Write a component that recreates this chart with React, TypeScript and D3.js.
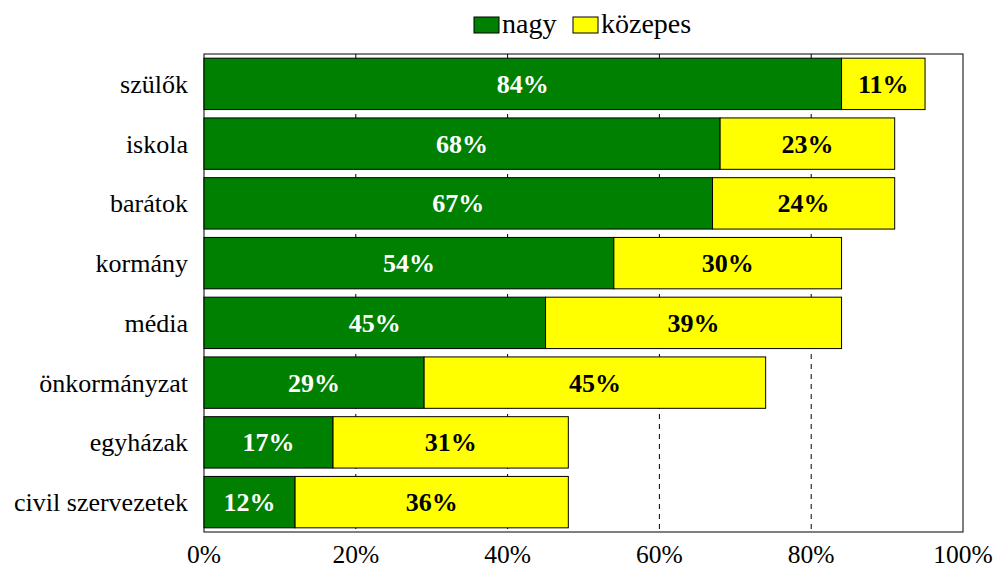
import { useRef, useEffect } from "react";
import * as d3 from "d3";

const categories = ["szülők", "iskola", "barátok", "kormány", "média", "önkormányzat", "egyházak", "civil szervezetek"];
const nagy = [84, 68, 67, 54, 45, 29, 17, 12];
const kozepes = [11, 23, 24, 30, 39, 45, 31, 36];
const seriesNames = ["nagy", "közepes"];
const xTicks = [0, 20, 40, 60, 80, 100];

const COLORS = ["#008000", "#ffff00"];
const TEXT_COLORS = ["#ffffff", "#000000"];
const FONT = "'Liberation Serif', 'Times New Roman', serif";

export default function App() {
  const ref = useRef<SVGSVGElement>(null);

  useEffect(() => {
    if (!ref.current) return;
    const W = 995;
    const H = 569;
    const margin = { top: 54, right: 32, bottom: 37, left: 204 };
    const w = W - margin.left - margin.right;
    const h = H - margin.top - margin.bottom;

    const svg = d3.select(ref.current);
    svg.selectAll("*").remove();

    const g = svg.append("g").attr("transform", `translate(${margin.left},${margin.top})`);

    const x = d3.scaleLinear().domain([0, 100]).range([0, w]);
    const y = d3.scaleBand().domain(categories).range([0, h]).paddingInner(0.14).paddingOuter(0.07);

    // Frame
    g.append("rect").attr("x", 0).attr("y", 0).attr("width", w).attr("height", h)
      .attr("fill", "#fff").attr("stroke", "#000").attr("stroke-width", 1);

    // Grid
    xTicks.slice(1, -1).forEach((t) => {
      g.append("line").attr("x1", x(t)).attr("x2", x(t)).attr("y1", 0).attr("y2", h)
        .attr("stroke", "#000").attr("stroke-width", 1).attr("stroke-dasharray", "5,5");
    });

    // Bars
    categories.forEach((c, i) => {
      const vals = [nagy[i], kozepes[i]];
      let acc = 0;
      vals.forEach((v, s) => {
        const x0 = x(acc);
        const x1 = x(acc + v);
        g.append("rect")
          .attr("x", x0).attr("y", y(c)!).attr("width", x1 - x0).attr("height", y.bandwidth())
          .attr("fill", COLORS[s]).attr("stroke", "#000").attr("stroke-width", 1);
        g.append("text")
          .attr("x", (x0 + x1) / 2).attr("y", y(c)! + y.bandwidth() / 2)
          .attr("dy", "0.35em").attr("text-anchor", "middle")
          .attr("font-family", FONT).attr("font-size", 26).attr("font-weight", "bold")
          .attr("fill", TEXT_COLORS[s]).text(`${v}%`);
        acc += v;
      });
    });

    // Category labels
    categories.forEach((c) => {
      g.append("text")
        .attr("x", -16).attr("y", y(c)! + y.bandwidth() / 2).attr("dy", "0.35em")
        .attr("text-anchor", "end").attr("font-family", FONT).attr("font-size", 26)
        .attr("fill", "#000").text(c);
    });

    // X tick labels
    xTicks.forEach((t) => {
      g.append("text")
        .attr("x", x(t)).attr("y", h + 31).attr("text-anchor", "middle")
        .attr("font-family", FONT).attr("font-size", 25.5).attr("fill", "#000").text(`${t}%`);
    });

    // Legend
    const legend = svg.append("g").attr("transform", "translate(474,17)");
    const offsets = [0, 99];
    seriesNames.forEach((n, i) => {
      const lg = legend.append("g").attr("transform", `translate(${offsets[i]},0)`);
      lg.append("rect").attr("x", 0).attr("y", 0).attr("width", 25).attr("height", 16)
        .attr("fill", COLORS[i]).attr("stroke", "#000").attr("stroke-width", 1);
      lg.append("text").attr("x", 28).attr("y", 16).attr("font-family", FONT)
        .attr("font-size", 28).attr("fill", "#000").text(n);
    });
  }, []);

  return <svg ref={ref} width={995} height={569} style={{ display: "block", position: "absolute", left: 0, top: 0 }} />;
}
